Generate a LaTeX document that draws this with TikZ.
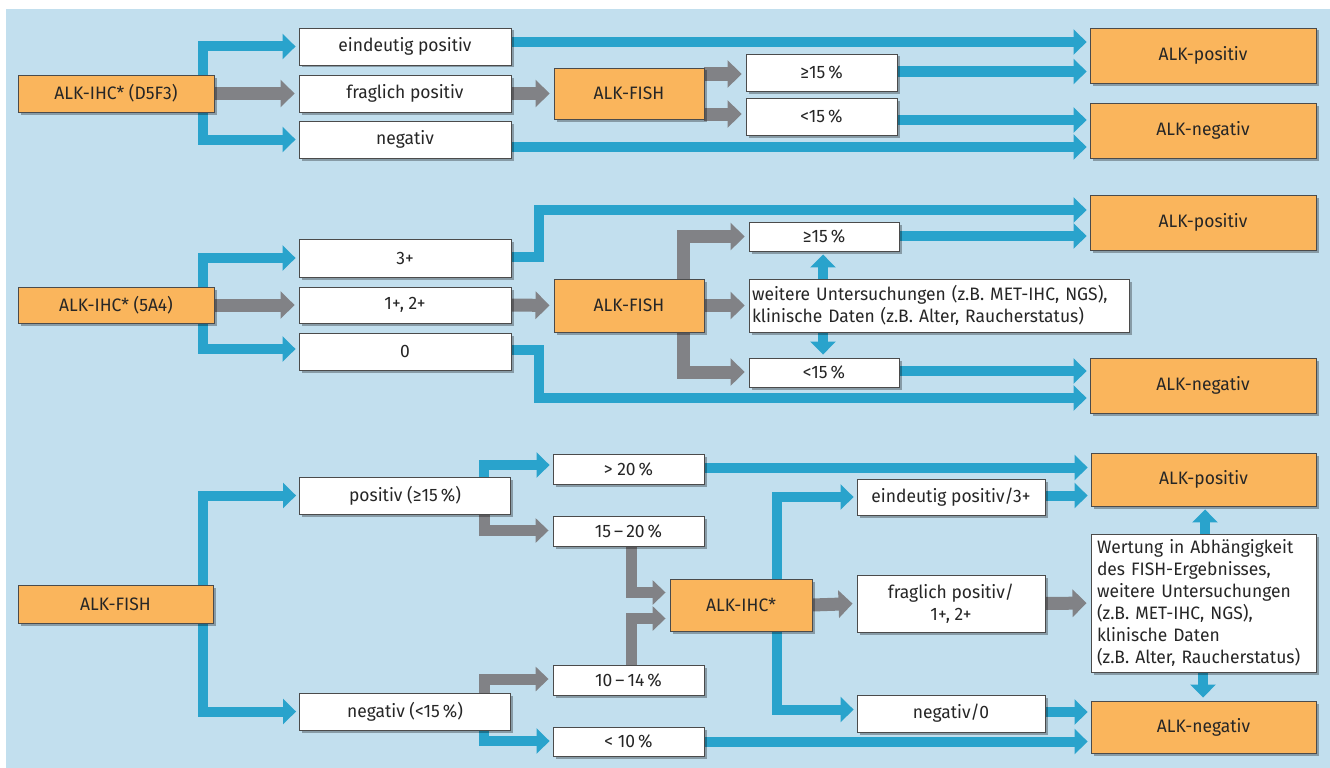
\documentclass[tikz,border=0pt]{standalone}
\usepackage{fontspec}
\setmainfont{Fira Sans}[FakeStretch=0.97]
\usetikzlibrary{arrows.meta,shadows}
\definecolor{bgblue}{RGB}{194,223,238}
\definecolor{arrblue}{RGB}{41,163,204}
\definecolor{arrgrey}{RGB}{129,130,134}
\definecolor{boxorange}{RGB}{250,181,92}
\definecolor{txt}{RGB}{38,38,38}
\definecolor{edge}{RGB}{75,75,75}
\pgfdeclarelayer{bg}
\pgfdeclarelayer{arrows}
\pgfsetlayers{bg,arrows,main}
\begin{document}
\begin{tikzpicture}[x=1pt,y=-1pt,
  box/.style={draw=edge, line width=0.9pt, text=txt, font=\fontsize{18}{22}\selectfont,
    inner sep=0pt, align=center,
    drop shadow={shadow xshift=2.5pt, shadow yshift=-2.5pt, fill=black, opacity=0.3}},
  wbox/.style={box, fill=white},
  obox/.style={box, fill=boxorange},
  barr/.style={draw=arrblue, line width=10pt, line join=miter,
    -{Triangle[length=13pt,width=25pt]}, shorten >=3pt},
  garr/.style={draw=arrgrey, line width=13pt, line join=miter,
    -{Triangle[length=14pt,width=27pt]}, shorten >=4pt},
  sgarr/.style={garr, line width=11pt, -{Triangle[length=13pt,width=24pt]}},
]
\useasboundingbox (0,0) rectangle (1330,768);
\begin{pgfonlayer}{bg}
\fill[bgblue] (6,9) rectangle (1330,768);
\end{pgfonlayer}

% ---------- Section 1 ----------
\node[obox, minimum width=196pt, minimum height=37pt] (a1) at (116,93.5) {ALK-IHC* (D5F3)};
\node[wbox, minimum width=212pt, minimum height=37pt] (a1p) at (405,46.5) {eindeutig positiv};
\node[wbox, minimum width=212pt, minimum height=37pt] (a1f) at (405,93.5) {fraglich positiv};
\node[wbox, minimum width=212pt, minimum height=37pt] (a1n) at (405,139.5) {negativ};
\node[obox, minimum width=150pt, minimum height=51pt] (f1) at (629,93.5) {ALK-FISH};
\node[wbox, minimum width=151pt, minimum height=37pt] (g1) at (821.5,72.5) {≥15\,\%};
\node[wbox, minimum width=151pt, minimum height=37pt] (l1) at (821.5,116.5) {<15\,\%};
\node[obox, minimum width=226pt, minimum height=55pt] (p1) at (1203,55.5) {ALK-positiv};
\node[obox, minimum width=226pt, minimum height=55pt] (n1) at (1203,130.5) {ALK-negativ};

% ---------- Section 2 ----------
\node[obox, minimum width=196pt, minimum height=36pt] (a2) at (116,305) {ALK-IHC* (5A4)};
\node[wbox, minimum width=212pt, minimum height=38pt] (b3) at (405,258) {3+};
\node[wbox, minimum width=212pt, minimum height=36pt] (b12) at (405,305) {1+, 2+};
\node[wbox, minimum width=212pt, minimum height=37pt] (b0) at (405,351.5) {0};
\node[obox, minimum width=150pt, minimum height=53pt] (f2) at (629,305.5) {ALK-FISH};
\node[wbox, minimum width=150pt, minimum height=29pt] (g2) at (824,236.5) {≥15\,\%};
\node[wbox, minimum width=380pt, minimum height=53pt, inner xsep=3pt, text width=374pt, align=left] (w2) at (939,305.5)
  {\mbox{weitere Untersuchungen (z.B. MET-IHC, NGS),}\\\mbox{klinische Daten (z.B. Alter, Raucherstatus)}};
\node[wbox, minimum width=150pt, minimum height=29pt] (l2) at (824,372.5) {<15\,\%};
\node[obox, minimum width=226pt, minimum height=55pt] (p2) at (1203,222.5) {ALK-positiv};
\node[obox, minimum width=226pt, minimum height=55pt] (n2) at (1203,385.5) {ALK-negativ};

% ---------- Section 3 ----------
\node[obox, minimum width=195pt, minimum height=38pt] (f3) at (115.5,604) {ALK-FISH};
\node[wbox, minimum width=211pt, minimum height=37pt] (c1) at (405,495.5) {positiv (≥15\,\%)};
\node[wbox, minimum width=211pt, minimum height=37pt] (c2) at (405,711.5) {negativ (<15\,\%)};
\node[wbox, minimum width=151pt, minimum height=30pt] (d1) at (628.5,469) {> 20\,\%};
\node[wbox, minimum width=151pt, minimum height=30pt] (d2) at (628.5,531) {15\,–\,20\,\%};
\node[wbox, minimum width=151pt, minimum height=30pt] (d3) at (628.5,680) {10\,–\,14\,\%};
\node[wbox, minimum width=151pt, minimum height=29pt] (d4) at (628.5,741.5) {< 10\,\%};
\node[obox, minimum width=142pt, minimum height=52pt] (i3) at (741,605) {ALK-IHC*};
\node[wbox, minimum width=188pt, minimum height=36pt] (e1) at (951,497) {eindeutig positiv/3+};
\node[wbox, minimum width=188pt, minimum height=57pt] (e2) at (951,603.5) {fraglich positiv/\\1+, 2+};
\node[wbox, minimum width=188pt, minimum height=37pt] (e3) at (951,713.5) {negativ/0};
\node[obox, minimum width=225pt, minimum height=53pt] (p3) at (1203.5,479.5) {ALK-positiv};
\node[wbox, minimum width=225pt, minimum height=138pt, inner xsep=6pt, text width=213pt, align=left] (w3) at (1203.5,603)
  {\mbox{Wertung in Abhängigkeit}\\\mbox{des FISH-Ergebnisses,}\\\mbox{weitere Untersuchungen}\\\mbox{(z.B. MET-IHC, NGS),}\\\mbox{klinische Daten}\\\mbox{(z.B. Alter, Raucherstatus)}};
\node[obox, minimum width=225pt, minimum height=52pt] (n3) at (1203.5,727) {ALK-negativ};

\begin{pgfonlayer}{arrows}
% section 1
\draw[barr] (a1.north -| 203,0) |- (a1p.west);
\draw[garr] (a1.east) -- (a1f.west);
\draw[barr] (a1.south -| 203,0) |- (a1n.west);
\draw[barr] (a1p.east |- 0,42) -- (p1.west |- 0,42);
\draw[garr] (a1f.east) -- (f1.west);
\draw[garr] (f1.east |- 0,74) -- (g1.west |- 0,74);
\draw[garr] (f1.east |- 0,114) -- (l1.west |- 0,114);
\draw[barr] (g1.east |- 0,71.5) -- (p1.west |- 0,71.5);
\draw[barr] (l1.east |- 0,120) -- (n1.west |- 0,120);
\draw[barr] (a1n.east |- 0,147) -- (n1.west |- 0,147);
% section 2
\draw[barr] (a2.north -| 203,0) |- (b3.west);
\draw[garr] (a2.east) -- (b12.west);
\draw[barr] (a2.south -| 203,0) |- (b0.west |- 0,349);
\draw[barr] (b3.east |- 0,257) -| (539,210) -- (p2.west |- 0,210);
\draw[barr] (b0.east |- 0,350) -| (539,398) -- (n2.west |- 0,398);
\draw[garr] (b12.east) -- (f2.west);
\draw[garr] (f2.north -| 683,0) |- (g2.west);
\draw[garr] (f2.east) -- (w2.west);
\draw[garr] (f2.south -| 683,0) |- (l2.west |- 0,372);
\draw[barr] (w2.north -| 823,0) -- (g2.south -| 823,0);
\draw[barr] (w2.south -| 823,0) -- (l2.north -| 823,0);
\draw[barr] (g2.east |- 0,236) -- (p2.west |- 0,236);
\draw[barr] (l2.east |- 0,371) -- (n2.west |- 0,371);
% section 3
\draw[barr] (f3.north -| 202.5,0) |- (c1.west);
\draw[barr] (f3.south -| 202.5,0) |- (c2.west);
\draw[barr] (c1.north -| 484,0) |- (d1.west |- 0,465);
\draw[sgarr] (c1.south -| 484,0) |- (d2.west |- 0,530.5);
\draw[sgarr] (c2.north -| 484,0) |- (d3.west |- 0,679);
\draw[barr] (c2.south -| 484,0) |- (d4.west |- 0,741);
\draw[sgarr] (d2.south -| 631,0) |- (i3.west |- 0,592.5);
\draw[sgarr] (d3.north -| 631,0) |- (i3.west |- 0,618.5);
\draw[barr] (d1.east |- 0,467.5) -- (p3.west |- 0,467.5);
\draw[barr] (d4.east |- 0,741.5) -- (n3.west |- 0,741.5);
\draw[barr] (i3.north -| 777,0) |- (e1.west);
\draw[garr] (i3.east) -- (e2.west);
\draw[barr] (i3.south -| 777,0) |- (e3.west |- 0,709.5);
\draw[barr] (e1.east |- 0,495.5) -- (p3.west |- 0,495.5);
\draw[garr] (e2.east) -- (w3.west);
\draw[barr] (e3.east |- 0,712) -- (n3.west |- 0,712);
\draw[barr] (w3.north -| 1205,0) -- (p3.south -| 1205,0);
\draw[barr] (w3.south -| 1203,0) -- (n3.north -| 1203,0);
\end{pgfonlayer}
\end{tikzpicture}
\end{document}
